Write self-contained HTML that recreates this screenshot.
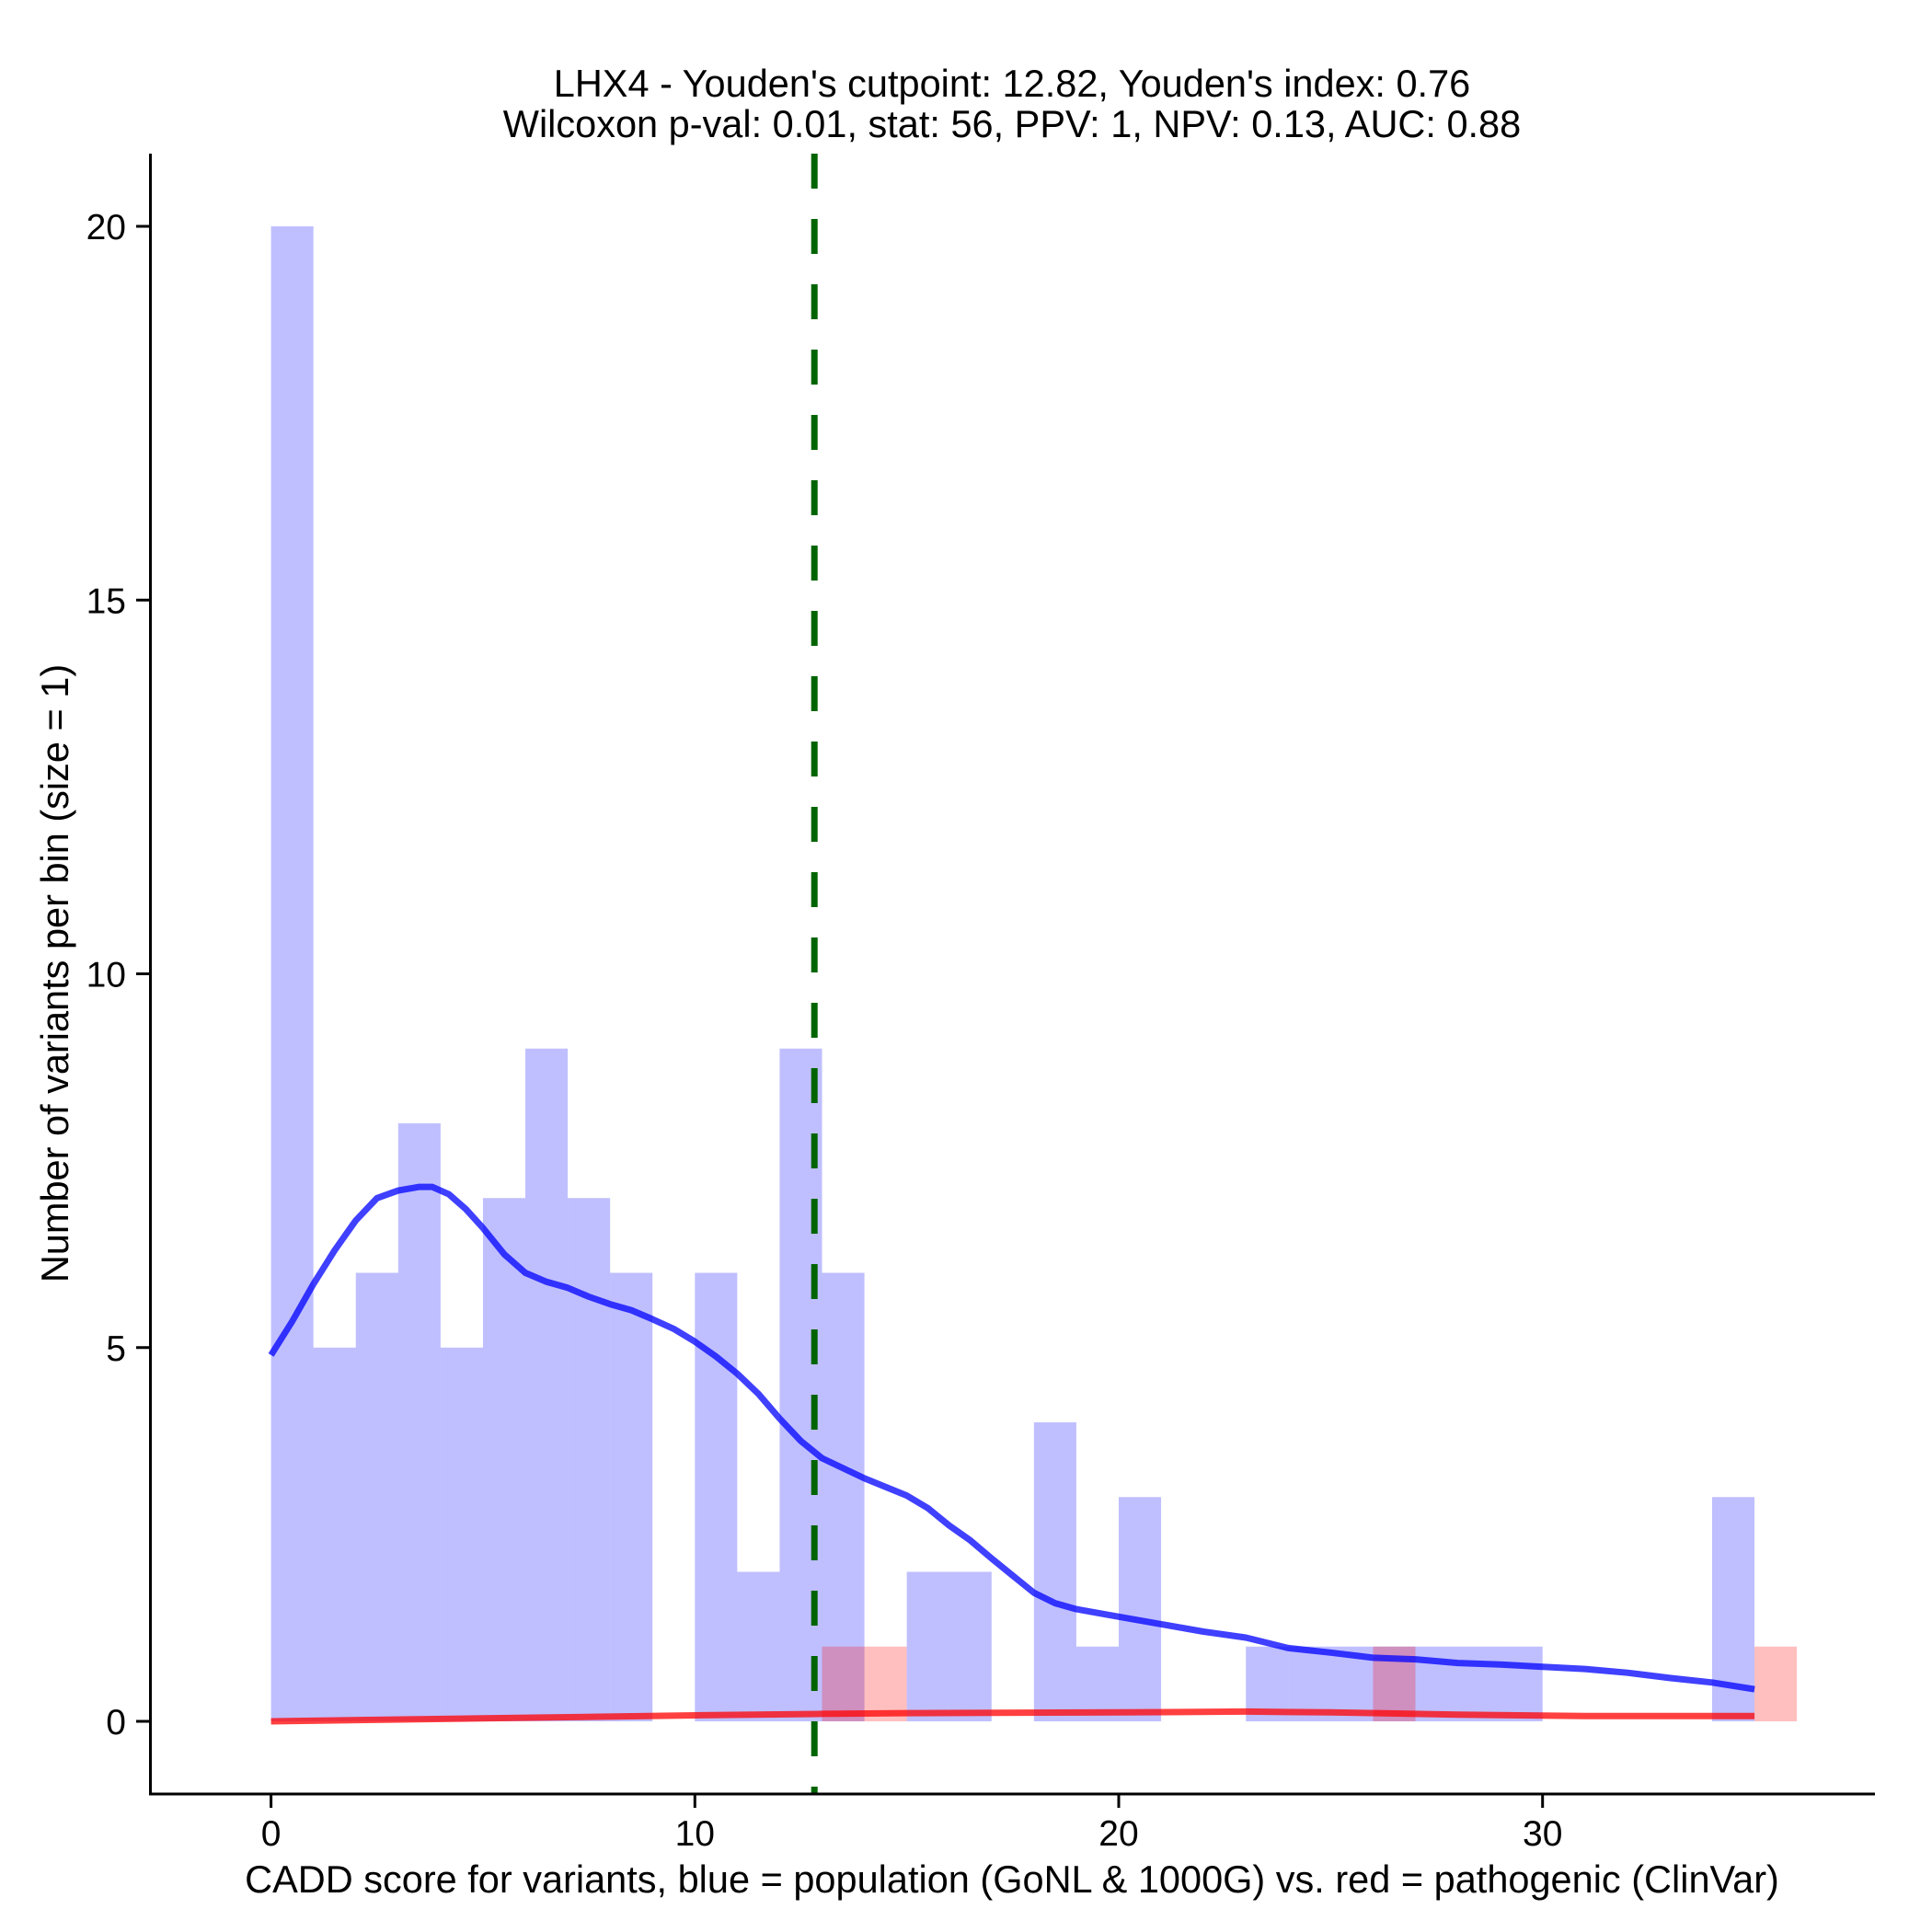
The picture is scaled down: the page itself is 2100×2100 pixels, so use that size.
<!DOCTYPE html>
<html><head><meta charset="utf-8"><style>
html,body{margin:0;padding:0;background:#fff;}
svg{display:block;font-family:"Liberation Sans",Arial,sans-serif;}
</style></head><body>
<svg id="chart" width="2100" height="2100" viewBox="0 0 2100 2100">
<rect width="2100" height="2100" fill="#fff"/>
<text x="1100" y="105" font-size="41.5" text-anchor="middle">LHX4 - Youden's cutpoint: 12.82, Youden's index: 0.76</text>
<text x="1100" y="149" font-size="41.5" text-anchor="middle">Wilcoxon p-val: 0.01, stat: 56, PPV: 1, NPV: 0.13, AUC: 0.88</text>
<g id="bars"></g>
<g id="lines"></g>
<g id="axes"></g>
<text x="1100" y="2057" font-size="41.5" text-anchor="middle">CADD score for variants, blue = population (GoNL &amp; 1000G) vs. red = pathogenic (ClinVar)</text>
<text transform="translate(74,1058) rotate(-90)" font-size="41.5" text-anchor="middle">Number of variants per bin (size = 1)</text>
</svg>
<script>
const blueCounts = [20,5,6,8,5,7,9,7,6,0,6,2,9,6,0,2,2,0,4,1,3,0,0,1,1,1,1,1,1,1,0,0,0,0,3];
const redBins = [13,14,26,35];
const redCounts = [1,1,1,1];
const blueDensX = [0,0.5,1,1.5,2,2.5,3,3.5,3.8,4.2,4.6,5,5.5,6,6.5,7,7.5,8,8.5,9,9.5,10,10.5,11,11.5,12,12.5,13,14,15,15.5,16,16.5,17,17.5,18,18.5,19,20,21,22,23,24,25,26,27,28,29,30,31,32,33,34,35];
const blueDensY = [4.9,5.35,5.85,6.3,6.7,7.0,7.1,7.15,7.15,7.05,6.85,6.6,6.25,6.0,5.88,5.8,5.68,5.58,5.5,5.38,5.25,5.08,4.88,4.65,4.38,4.05,3.75,3.52,3.25,3.02,2.85,2.62,2.42,2.18,1.95,1.72,1.58,1.5,1.4,1.3,1.2,1.12,0.98,0.92,0.85,0.83,0.78,0.76,0.73,0.7,0.65,0.58,0.52,0.43];
const redDensX = [0,5,10,13,15,20,23,25,28,31,35];
const redDensY = [0,0.04,0.08,0.1,0.11,0.12,0.13,0.12,0.09,0.07,0.07];
const xTicks = [0,10,20,30];
const yTicks = [0,5,10,15,20];
const cutpoint = 12.82;

const NS = "http://www.w3.org/2000/svg";
const X0 = 294.6, KX = 46.07, Y0 = 1871, KY = 81.25;
const sx = v => X0 + v*KX;
const sy = v => Y0 - v*KY;
function mk(tag, attrs, parent){const e=document.createElementNS(NS,tag);for(const k in attrs)e.setAttribute(k,attrs[k]);parent.appendChild(e);return e;}
const bars = document.getElementById('bars');
blueCounts.forEach((c,i)=>{ if(!c) return;
  const r = mk('rect',{x:sx(i),y:sy(c),width:KX,height:c*KY,fill:'#0000ff','fill-opacity':0.25},bars);
  
  
});
redBins.forEach((b,i)=>{
  const r = mk('rect',{x:sx(b),y:sy(redCounts[i]),width:KX,height:redCounts[i]*KY,fill:'#ff0000','fill-opacity':0.25},bars);
  
  
});
const lines = document.getElementById('lines');
const bp = blueDensX.map((x,i)=>sx(x).toFixed(1)+','+sy(blueDensY[i]).toFixed(1)).join(' ');
const bl = mk('polyline',{points:bp,fill:'none',stroke:'#0000ff','stroke-opacity':0.75,'stroke-width':7,'stroke-linejoin':'round'},lines);


const rp = redDensX.map((x,i)=>sx(x).toFixed(1)+','+sy(redDensY[i]).toFixed(1)).join(' ');
const rl = mk('polyline',{points:rp,fill:'none',stroke:'#ff0000','stroke-opacity':0.75,'stroke-width':7,'stroke-linejoin':'round'},lines);


const cl = mk('line',{x1:sx(cutpoint),x2:sx(cutpoint),y1:167,y2:1950,stroke:'#006400','stroke-width':7,'stroke-dasharray':'38 33'},lines);


const axes = document.getElementById('axes');
const ya = mk('line',{x1:163.5,x2:163.5,y1:167,y2:1951.5,stroke:'#000','stroke-width':3},axes);


const xa = mk('line',{x1:162,x2:2038,y1:1950,y2:1950,stroke:'#000','stroke-width':3},axes);


yTicks.forEach(t=>{
  const l = mk('line',{x1:148,x2:163,y1:sy(t),y2:sy(t),stroke:'#000','stroke-width':3},axes);
  
  
  const tx = mk('text',{x:137,y:sy(t)+14,'font-size':39,'text-anchor':'end'},axes);
  tx.textContent = t;
  
  
});
xTicks.forEach(t=>{
  const l = mk('line',{x1:sx(t),x2:sx(t),y1:1950,y2:1965,stroke:'#000','stroke-width':3},axes);
  
  
  const tx = mk('text',{x:sx(t),y:2006,'font-size':39,'text-anchor':'middle'},axes);
  tx.textContent = t;
  
  
});
</script>
</body></html>
